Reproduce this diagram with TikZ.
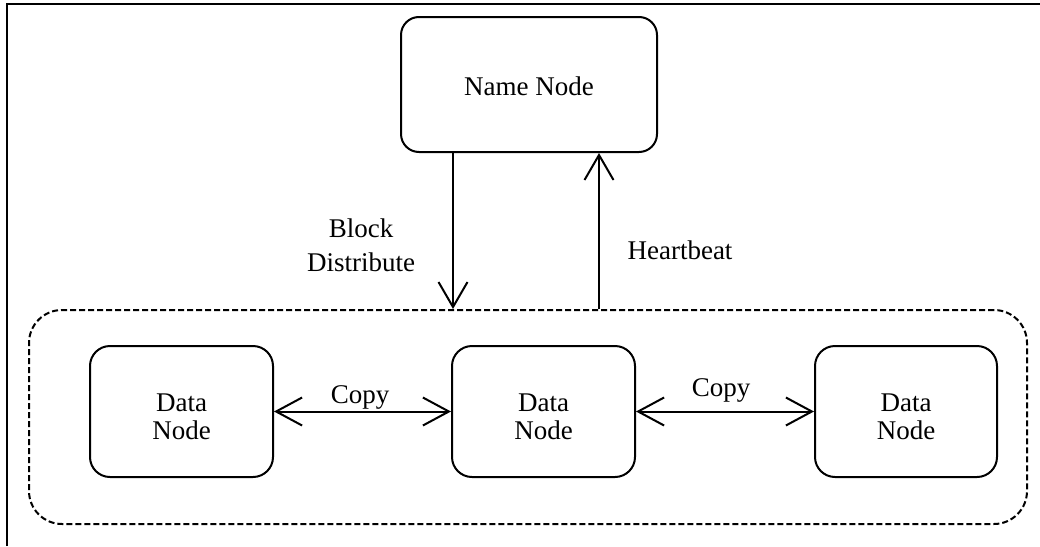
\documentclass[tikz,border=0pt]{standalone}
\usepackage{fontspec}
\setmainfont{Liberation Serif}
\usetikzlibrary{arrows.meta}
\begin{document}
\begin{tikzpicture}[x=1pt,y=-1pt,
  txt/.style={font=\fontsize{27}{34}\selectfont, inner sep=0pt},
  nodebox/.style={draw, line width=2pt, rounded corners=18pt, inner sep=0pt},
  databox/.style={nodebox, rounded corners=20pt, minimum width=183pt, minimum height=131pt},
  datatxt/.style={font=\fontsize{27}{28}\selectfont, align=center, inner sep=0pt},
  groupbox/.style={draw, line width=2pt, dash pattern=on 6pt off 3pt,
    rounded corners=33pt, inner sep=0pt},
  arr/.style={line width=2pt, -{Straight Barb[length=25pt,width=29pt]}},
  dbl/.style={line width=2pt, {Straight Barb[length=26pt,width=28pt]}-{Straight Barb[length=26pt,width=28pt]}}]
\useasboundingbox (0,0) rectangle (1040,546);

% frame
\draw[line width=2.5pt] (7,546) -- (7,4) -- (1040,4);

% name node
\node[nodebox, minimum width=256pt, minimum height=135pt] (nn) at (529,84.5) {};
\node[txt, anchor=base] (nnt) at (529,95) {Name Node};

% data node group
\node[groupbox, minimum width=998pt, minimum height=214pt] (grp) at (528,417) {};
\node[databox] (d1) at (181.5,411.5) {};
\node[databox] (d2) at (543.5,411.5) {};
\node[databox, minimum width=182pt] (d3) at (906,411.5) {};
\node[datatxt] (d1t) at ([yshift=-5pt]d1.center) {Data\\Node};
\node[datatxt] (d2t) at ([yshift=-5pt]d2.center) {Data\\Node};
\node[datatxt] (d3t) at ([yshift=-5pt]d3.center) {Data\\Node};

% name node <-> group
\coordinate (dn) at (453,152);
\coordinate (up) at (599,152);
\draw[arr] (dn |- nn.south) -- (dn |- grp.north);
\draw[arr] (up |- grp.north) -- (up |- nn.south);

\node[txt, align=center] (bd) at (361,245) {Block\\Distribute};
\node[txt, anchor=base] (hb) at (680,259) {Heartbeat};

% copies between data nodes
\draw[dbl] (d1.east) -- (d2.west);
\draw[dbl] (d2.east) -- (d3.west);
\node[txt, anchor=base] (c1) at (360,403) {Copy};
\node[txt, anchor=base] (c2) at (721,396) {Copy};
\end{tikzpicture}
\end{document}
